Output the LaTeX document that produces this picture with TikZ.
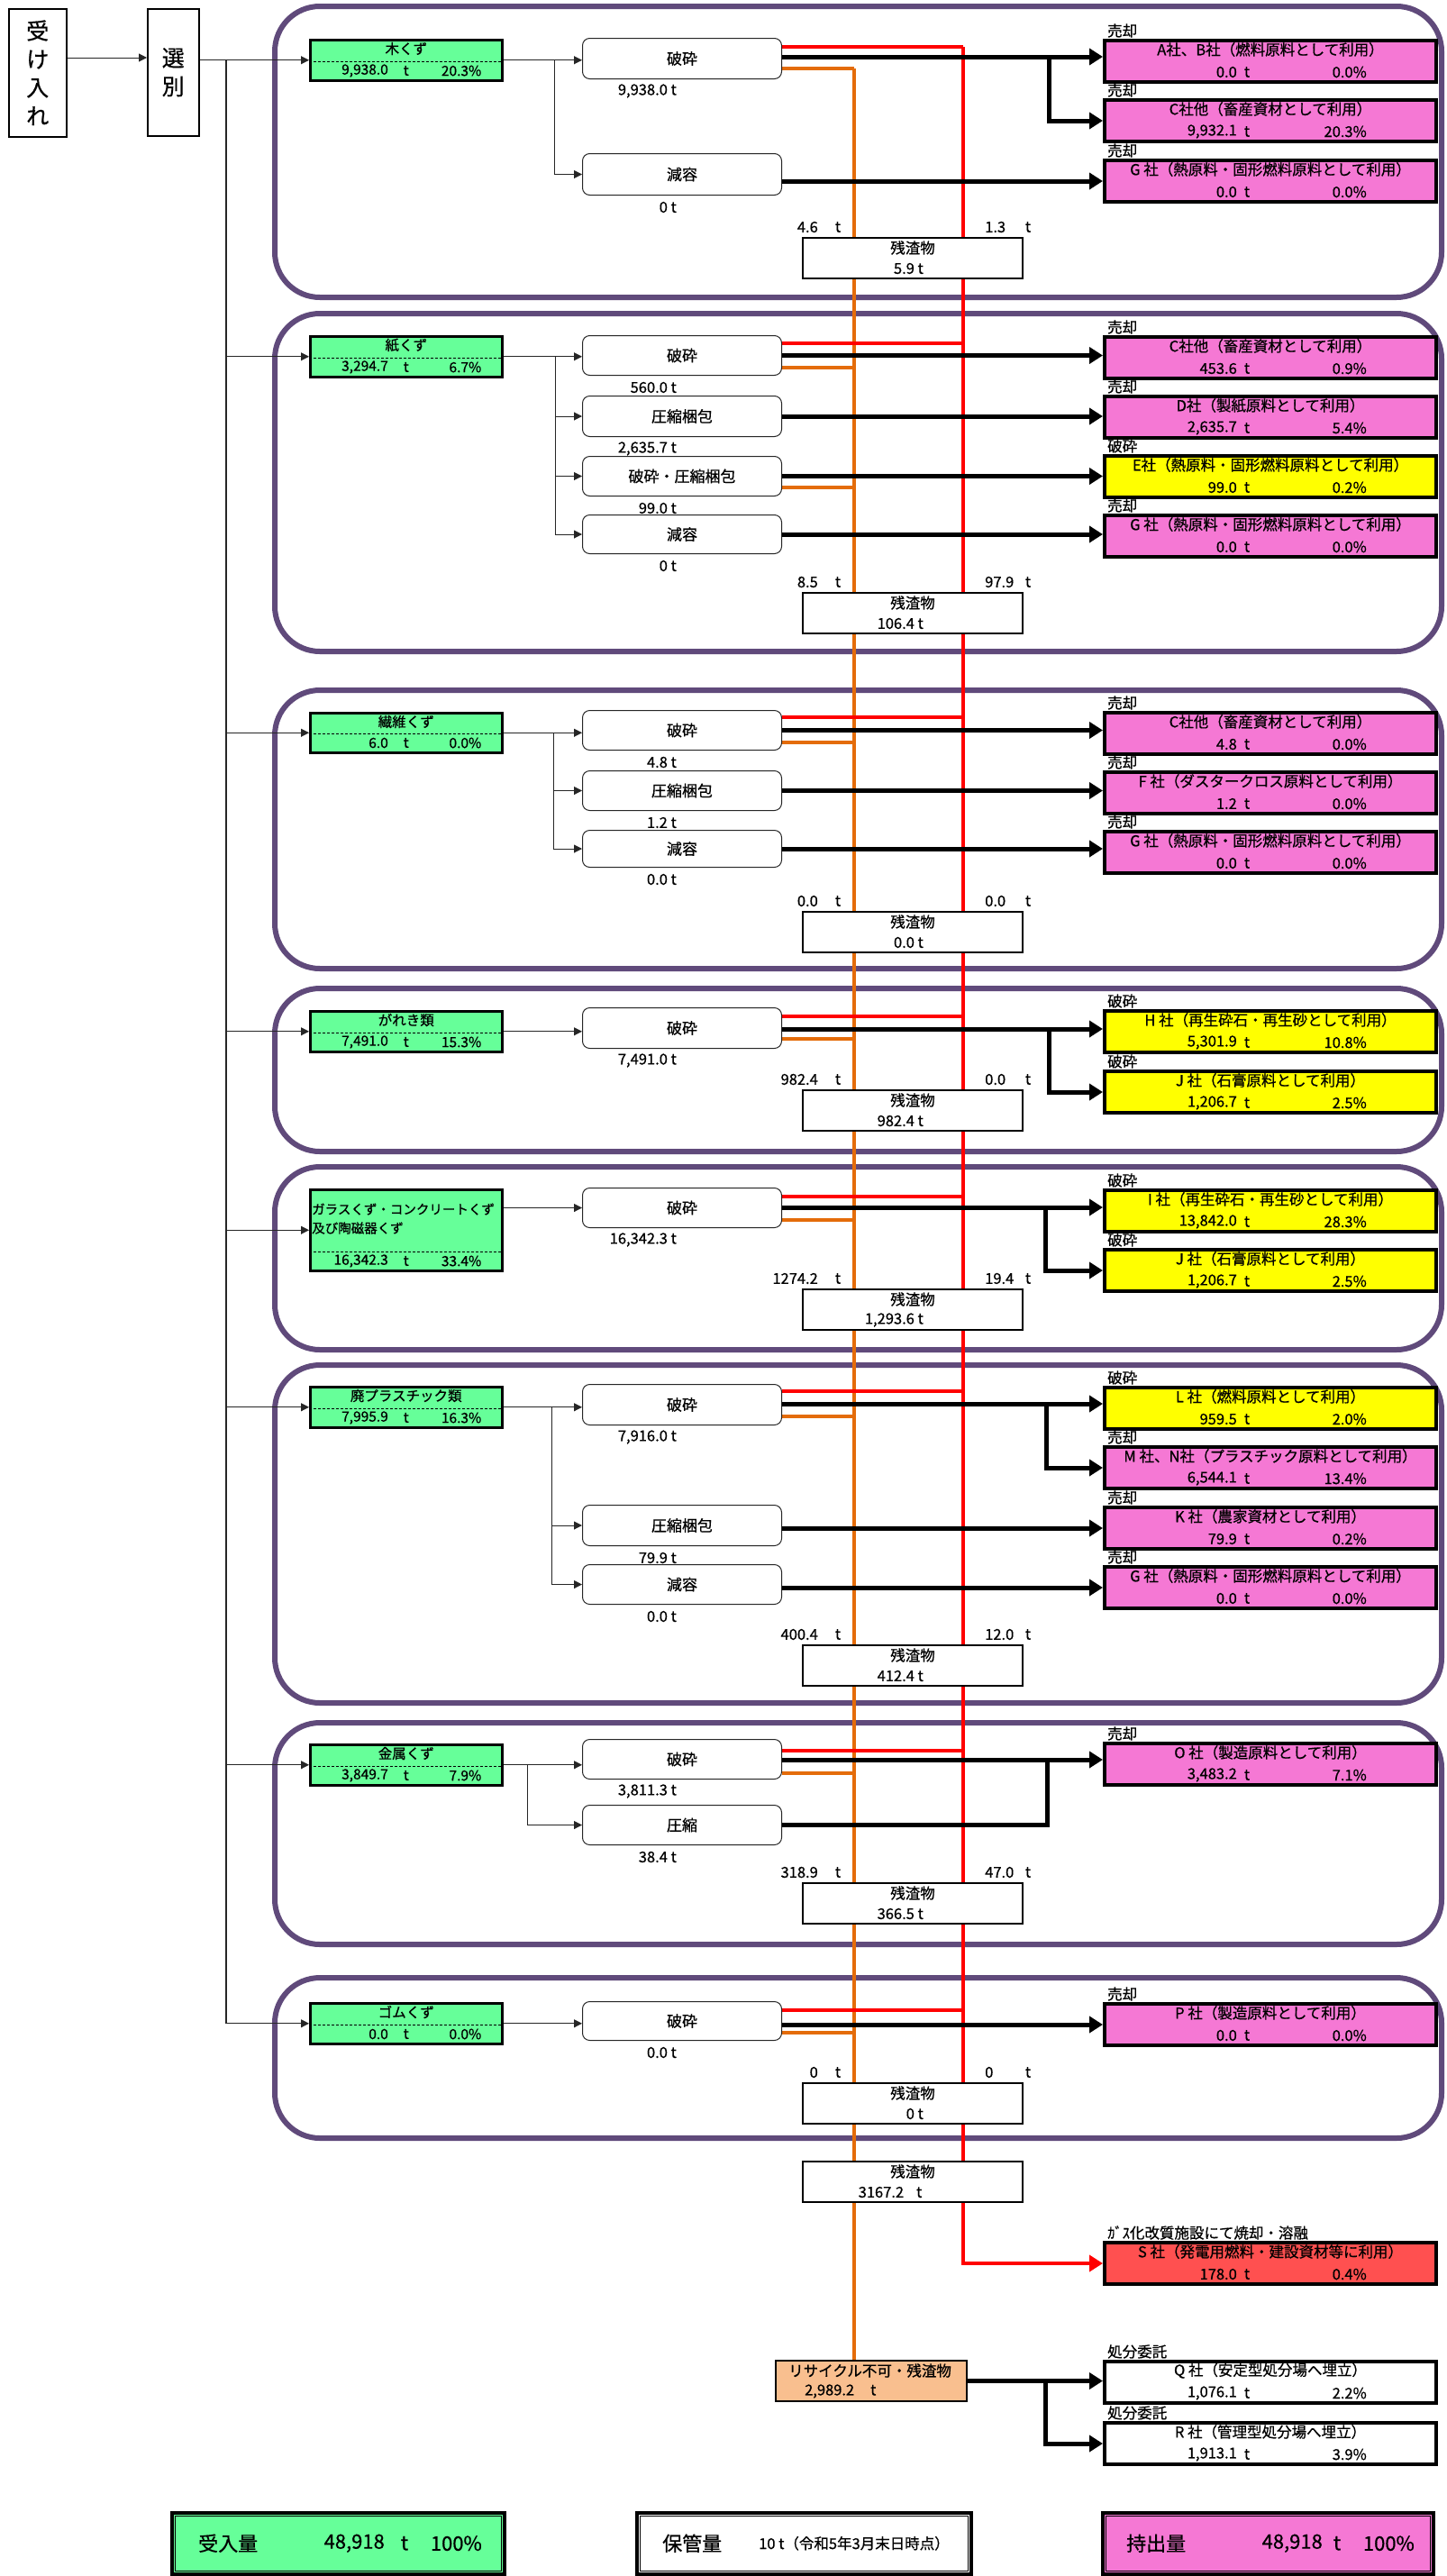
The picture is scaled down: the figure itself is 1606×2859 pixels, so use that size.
\documentclass[tikz,border=0pt]{standalone}
\usepackage{fontspec}
\newfontfamily\jp{Noto Sans CJK JP}[FakeBold=0.6]
\usetikzlibrary{arrows.meta}
\definecolor{grn}{HTML}{66FF99}
\definecolor{pnk}{HTML}{F578D4}
\definecolor{ylw}{HTML}{FFFF00}
\definecolor{srd}{HTML}{FF5050}
\definecolor{prp}{HTML}{604A7B}
\definecolor{org}{HTML}{E46C0A}
\definecolor{rdl}{HTML}{FF0000}
\definecolor{orf}{HTML}{F9BF8F}
\pgfdeclarelayer{sectl}
\pgfdeclarelayer{lines}
\pgfsetlayers{sectl,lines,main}
\tikzset{
  txt/.style={inner sep=0pt, font=\jp\fontsize{16.5}{18}\selectfont},
  txts/.style={inner sep=0pt, font=\jp\fontsize{15.5}{17}\selectfont},
  big/.style={inner sep=0pt, font=\jp\fontsize{22}{24}\selectfont},
  mat/.style={draw, line width=2.5pt, fill=grn, minimum width=213pt, anchor=north west, inner sep=0pt},
  proc/.style={draw=black!85, line width=1pt, rounded corners=8pt, fill=white, minimum width=221pt, anchor=north west, inner sep=0pt, font=\jp\fontsize{17}{18}\selectfont},
  res/.style={draw, line width=2pt, fill=white, minimum width=244pt, minimum height=45pt, anchor=north west, inner sep=0pt},
  tgt/.style={draw, line width=4pt, minimum width=368pt, minimum height=46pt, anchor=north west, inner sep=0pt},
  sect/.style={draw=prp, line width=6pt, rounded corners=50pt},
  tarr/.style={draw=black!85, line width=1pt, -{Triangle[length=9pt,width=9pt]}},
  tln/.style={draw=black!85, line width=1.5pt},
  blk/.style={line width=5pt, -{Triangle[length=15pt,width=18pt]}},
  blkn/.style={line width=5pt},
  rline/.style={draw=rdl, line width=4pt},
  oline/.style={draw=org, line width=4pt},
  sumbox/.style={draw, line width=3.5pt, minimum width=369pt, minimum height=68pt, anchor=north west, inner sep=0pt}
}
\newcommand{\matnode}[6]{%
  \node[mat, minimum height=#3pt] (#1) at (343,#2) {};
  \draw[line width=1.5pt, dash pattern=on 3pt off 2pt] ([yshift=22pt]#1.south west) -- ([yshift=22pt]#1.south east);
  \node[txts] (#1t) at ([yshift=-11pt]#1.north) {#4};
  \node[txts, anchor=east] (#1n) at ([xshift=88pt,yshift=12pt]#1.south west) {#5};
  \node[txts] (#1u) at ([yshift=12pt]#1.south) {t};
  \node[txts, anchor=east] (#1p) at ([xshift=-24pt,yshift=12pt]#1.south east) {#6};}
\newcommand{\procnode}[6]{%
  \node[proc, minimum height=#4pt] (#1) at (#2,#3) {#5};
  \node[txt, anchor=east] (#1l) at ([xshift=-117pt,yshift=-13pt]#1.south east) {#6};}
\newcommand{\resnode}[5]{%
  \node[res] (#1) at (890,#2) {};
  \node[txt] (#1a) at ([yshift=-12pt]#1.north) {残渣物};
  \node[txt, anchor=east] (#1v) at ([xshift=-111pt,yshift=12pt]#1.south east) {#3};
  \node[txt, anchor=east] (#1l) at ([xshift=18pt,yshift=11pt]#1.north west) {#4};
  \node[txt] (#1lt) at ([xshift=40pt,yshift=11pt]#1.north west) {t};
  \node[txt, anchor=west] (#1r) at ([xshift=203pt,yshift=11pt]#1.north west) {#5};
  \node[txt] (#1rt) at ([xshift=251pt,yshift=11pt]#1.north west) {t};}
\newcommand{\tgtnode}[7]{%
  \node[tgt, fill=#3] (#1) at (1224,#2) {};
  \node[txt, anchor=west] (#1h) at ([xshift=5pt,yshift=9pt]#1.north west) {#4};
  \node[txt] (#1a) at ([yshift=-12pt]#1.north) {#5};
  \node[txt, anchor=east] (#1n) at ([xshift=149pt,yshift=13pt]#1.south west) {#6};
  \node[txt] (#1u) at ([xshift=160pt,yshift=13pt]#1.south west) {t};
  \node[txt, anchor=east] (#1p) at ([xshift=293pt,yshift=13pt]#1.south west) {#7};}
\begin{document}
\begin{tikzpicture}[x=1pt,y=-1pt]
\useasboundingbox (0,0) rectangle (1606,2859);
\begin{pgfonlayer}{sectl}
\fill[white] (0,0) rectangle (1606,2859);
\draw[sect] (305,7) rectangle (1600,330);
\draw[sect] (305,348) rectangle (1600,723);
\draw[sect] (305,766) rectangle (1600,1075);
\draw[sect] (305,1097) rectangle (1600,1278);
\draw[sect] (305,1295) rectangle (1600,1498);
\draw[sect] (305,1515) rectangle (1600,1890);
\draw[sect] (305,1912) rectangle (1600,2158);
\draw[sect] (305,2195) rectangle (1600,2373);
\end{pgfonlayer}

% left column
\node[draw, line width=1.5pt, minimum width=64pt, minimum height=142pt, anchor=north west, inner sep=0pt, align=center, font=\jp\fontsize{25}{31.5}\selectfont] (uke) at (9,9) {受\\け\\入\\れ};
\node[draw, line width=1.5pt, minimum width=57pt, minimum height=141pt, anchor=north west, inner sep=0pt, align=center, font=\jp\fontsize{25}{31.5}\selectfont] (sen) at (163,9) {選\\別};

% material boxes
\matnode{m1}{43}{45}{木くず}{9,938.0}{20.3\%}
\matnode{m2}{372}{45}{紙くず}{3,294.7}{6.7\%}
\matnode{m3}{790}{44}{繊維くず}{6.0}{0.0\%}
\matnode{m4}{1121}{45}{がれき類}{7,491.0}{15.3\%}
\matnode{m5}{1319}{90}{}{16,342.3}{33.4\%}
\node[inner sep=0pt, anchor=west, font=\jp\fontsize{14.5}{16}\selectfont] (m5x) at ([xshift=3pt,yshift=-23pt]m5.north west) {ガラスくず・コンクリートくず};
\node[inner sep=0pt, anchor=west, font=\jp\fontsize{14.5}{16}\selectfont] (m5y) at ([xshift=3pt,yshift=-44pt]m5.north west) {及び陶磁器くず};
\matnode{m6}{1538}{45}{廃プラスチック類}{7,995.9}{16.3\%}
\matnode{m7}{1935}{45}{金属くず}{3,849.7}{7.9\%}
\matnode{m8}{2222}{45}{ゴムくず}{0.0}{0.0\%}

% process boxes
\procnode{p1a}{646}{42}{45}{破砕}{9,938.0 t}
\procnode{p1b}{646}{170}{46}{減容}{0 t}
\procnode{p2a}{646}{372}{44}{破砕}{560.0 t}
\procnode{p2b}{646}{439}{45}{圧縮梱包}{2,635.7 t}
\procnode{p2c}{646}{506}{44}{破砕・圧縮梱包}{99.0 t}
\procnode{p2d}{646}{571}{43}{減容}{0 t}
\procnode{p3a}{646}{788}{44}{破砕}{4.8 t}
\procnode{p3b}{646}{855}{44}{圧縮梱包}{1.2 t}
\procnode{p3c}{646}{921}{41}{減容}{0.0 t}
\procnode{p4a}{646}{1118}{45}{破砕}{7,491.0 t}
\procnode{p5a}{646}{1318}{44}{破砕}{16,342.3 t}
\procnode{p6a}{646}{1536}{45}{破砕}{7,916.0 t}
\procnode{p6b}{646}{1670}{45}{圧縮梱包}{79.9 t}
\procnode{p6c}{646}{1736}{44}{減容}{0.0 t}
\procnode{p7a}{646}{1930}{44}{破砕}{3,811.3 t}
\procnode{p7b}{646}{2003}{44}{圧縮}{38.4 t}
\procnode{p8a}{646}{2221}{43}{破砕}{0.0 t}

% target boxes
\tgtnode{t1a}{43}{pnk}{売却}{A社、B社（燃料原料として利用）}{0.0}{0.0\%}
\tgtnode{t1b}{109}{pnk}{売却}{C社他（畜産資材として利用）}{9,932.1}{20.3\%}
\tgtnode{t1c}{176}{pnk}{売却}{G 社（熱原料・固形燃料原料として利用）}{0.0}{0.0\%}
\tgtnode{t2a}{372}{pnk}{売却}{C社他（畜産資材として利用）}{453.6}{0.9\%}
\tgtnode{t2b}{438}{pnk}{売却}{D社（製紙原料として利用）}{2,635.7}{5.4\%}
\tgtnode{t2c}{504}{ylw}{破砕}{E社（熱原料・固形燃料原料として利用）}{99.0}{0.2\%}
\tgtnode{t2d}{570}{pnk}{売却}{G 社（熱原料・固形燃料原料として利用）}{0.0}{0.0\%}
\tgtnode{t3a}{789}{pnk}{売却}{C社他（畜産資材として利用）}{4.8}{0.0\%}
\tgtnode{t3b}{855}{pnk}{売却}{F 社（ダスタークロス原料として利用）}{1.2}{0.0\%}
\tgtnode{t3c}{921}{pnk}{売却}{G 社（熱原料・固形燃料原料として利用）}{0.0}{0.0\%}
\tgtnode{t4a}{1120}{ylw}{破砕}{H 社（再生砕石・再生砂として利用）}{5,301.9}{10.8\%}
\tgtnode{t4b}{1187}{ylw}{破砕}{J 社（石膏原料として利用）}{1,206.7}{2.5\%}
\tgtnode{t5a}{1319}{ylw}{破砕}{I 社（再生砕石・再生砂として利用）}{13,842.0}{28.3\%}
\tgtnode{t5b}{1385}{ylw}{破砕}{J 社（石膏原料として利用）}{1,206.7}{2.5\%}
\tgtnode{t6a}{1538}{ylw}{破砕}{L 社（燃料原料として利用）}{959.5}{2.0\%}
\tgtnode{t6b}{1604}{pnk}{売却}{M 社、N社（プラスチック原料として利用）}{6,544.1}{13.4\%}
\tgtnode{t6c}{1671}{pnk}{売却}{K 社（農家資材として利用）}{79.9}{0.2\%}
\tgtnode{t6d}{1737}{pnk}{売却}{G 社（熱原料・固形燃料原料として利用）}{0.0}{0.0\%}
\tgtnode{t7a}{1933}{pnk}{売却}{O 社（製造原料として利用）}{3,483.2}{7.1\%}
\tgtnode{t8a}{2222}{pnk}{売却}{P 社（製造原料として利用）}{0.0}{0.0\%}
\tgtnode{tS}{2487}{srd}{ｶﾞｽ化改質施設にて焼却・溶融}{S 社（発電用燃料・建設資材等に利用）}{178.0}{0.4\%}
\tgtnode{tQ}{2619}{white}{処分委託}{Q 社（安定型処分場へ埋立）}{1,076.1}{2.2\%}
\tgtnode{tR}{2687}{white}{処分委託}{R 社（管理型処分場へ埋立）}{1,913.1}{3.9\%}

% residue boxes
\resnode{res1}{263}{5.9 t}{4.6}{1.3}
\resnode{res2}{657}{106.4 t}{8.5}{97.9}
\resnode{res3}{1011}{0.0 t}{0.0}{0.0}
\resnode{res4}{1209}{982.4 t}{982.4}{0.0}
\resnode{res5}{1430}{1,293.6 t}{1274.2}{19.4}
\resnode{res6}{1825}{412.4 t}{400.4}{12.0}
\resnode{res7}{2089}{366.5 t}{318.9}{47.0}
\resnode{res8}{2311}{0 t}{0}{0}
\node[res] (resT) at (890,2398) {};
\node[txt] (resTa) at ([yshift=-12pt]resT.north) {残渣物};
\node[txt] (resTv) at ([xshift=-25pt,yshift=12pt]resT.south) {3167.2\hspace{14pt}t};

\node[draw, line width=2pt, fill=orf, minimum width=212pt, minimum height=45pt, anchor=north west, inner sep=0pt] (rec) at (860,2619) {};
\node[txt, anchor=west] (reca) at ([xshift=15pt,yshift=-12pt]rec.north west) {リサイクル不可・残渣物};
\node[txt, anchor=west] (recb) at ([xshift=33pt,yshift=12pt]rec.south west) {2,989.2\hspace{18pt}t};

% summary boxes
\node[sumbox, fill=grn] (sIn) at (189,2787) {};
\node[sumbox, fill=white, minimum width=371pt] (sKeep) at (705,2787) {};
\node[sumbox, fill=pnk, minimum width=367pt] (sOut) at (1222,2787) {};
\foreach \s in {sIn,sKeep,sOut}{
  \draw[line width=1pt] ([shift={(5pt,5pt)}]\s.south west) rectangle ([shift={(-5pt,-5pt)}]\s.north east);}
\node[big, anchor=west] (sInA) at ([xshift=31pt]sIn.west) {受入量};
\node[big, anchor=east] (sInN) at ([xshift=238pt]sIn.west) {48,918};
\node[big] (sInU) at ([xshift=260pt]sIn.west) {t};
\node[big, anchor=east] (sInP) at ([xshift=346pt]sIn.west) {100\%};
\node[big, anchor=west] (sKeepA) at ([xshift=30pt]sKeep.west) {保管量};
\node[txt, anchor=west] (sKeepB) at ([xshift=137pt]sKeep.west) {10 t（令和5年3月末日時点）};
\node[big, anchor=west] (sOutA) at ([xshift=28pt]sOut.west) {持出量};
\node[big, anchor=east] (sOutN) at ([xshift=246pt]sOut.west) {48,918};
\node[big] (sOutU) at ([xshift=262pt]sOut.west) {t};
\node[big, anchor=east] (sOutP) at ([xshift=348pt]sOut.west) {100\%};

% coordinates
\coordinate (ya) at (0,64);
\coordinate (trk) at (251,0);
\coordinate (j1) at (615,0);
\coordinate (j2) at (616,0);
\coordinate (j3) at (614,0);
\coordinate (j6) at (612,0);
\coordinate (j7) at (585,0);
\coordinate (r1) at (1069,52);
\coordinate (o1) at (948,76);
\coordinate (r2) at (1069,381);
\coordinate (o2) at (948,408);
\coordinate (o2c) at (948,541);
\coordinate (r3) at (1069,796);
\coordinate (o3) at (948,824);
\coordinate (r4) at (1069,1128);
\coordinate (o4) at (948,1153);
\coordinate (r5) at (1069,1328);
\coordinate (o5) at (948,1354);
\coordinate (r6) at (1069,1544);
\coordinate (o6) at (948,1572);
\coordinate (r7) at (1069,1943);
\coordinate (o7) at (948,1968);
\coordinate (r8) at (1069,2231);
\coordinate (o8) at (948,2256);
\coordinate (k1) at (1164,63);
\coordinate (k4) at (1164,1142);
\coordinate (k5) at (1160,1340);
\coordinate (k6) at (1161,1558);
\coordinate (k7) at (1162,1953);
\coordinate (k9) at (1160,0);

% red and orange flows
\begin{pgfonlayer}{lines}
\draw[rline, -{Triangle[length=15pt,width=18pt]}] (r1) |- (tS.west);
\draw[oline] (o1) -- (o1 |- rec.north);
\draw[rline] (p1a.east |- r1) -- (r1);
\draw[oline] (p1a.east |- o1) -- (o1);
\draw[rline] (p2a.east |- r2) -- (r2);
\draw[oline] (p2a.east |- o2) -- (o2);
\draw[oline] (p2c.east |- o2c) -- (o2c);
\draw[rline] (p3a.east |- r3) -- (r3);
\draw[oline] (p3a.east |- o3) -- (o3);
\draw[rline] (p4a.east |- r4) -- (r4);
\draw[oline] (p4a.east |- o4) -- (o4);
\draw[rline] (p5a.east |- r5) -- (r5);
\draw[oline] (p5a.east |- o5) -- (o5);
\draw[rline] (p6a.east |- r6) -- (r6);
\draw[oline] (p6a.east |- o6) -- (o6);
\draw[rline] (p7a.east |- r7) -- (r7);
\draw[oline] (p7a.east |- o7) -- (o7);
\draw[rline] (p8a.east |- r8) -- (r8);
\draw[oline] (p8a.east |- o8) -- (o8);
\end{pgfonlayer}

% thin connectors
\draw[tarr] (uke.east |- ya) -- (sen.west |- ya);
\draw[tarr] (sen.east |- m1.west) -- (m1.west);
\draw[tln] (trk |- m1.west) -- (trk |- m8.west);
\foreach \m in {m2,m3,m4,m5,m6,m7,m8}{\draw[tarr] (trk |- \m.west) -- (\m.west);}
\draw[tarr] (m1.east) -- (m1.east -| p1a.west);
\draw[tarr] (j1 |- m1.east) |- (p1b.west);
\draw[tarr] (m2.east) -- (m2.east -| p2a.west);
\draw[tarr] (j2 |- m2.east) |- (p2b.west);
\draw[tarr] (j2 |- m2.east) |- (p2c.west);
\draw[tarr] (j2 |- m2.east) |- (p2d.west);
\draw[tarr] (m3.east) -- (m3.east -| p3a.west);
\draw[tarr] (j3 |- m3.east) |- (p3b.west);
\draw[tarr] (j3 |- m3.east) |- (p3c.west);
\draw[tarr] (m4.east) -- (m4.east -| p4a.west);
\draw[tarr] (m5.east |- p5a.west) -- (p5a.west);
\draw[tarr] (m6.east) -- (m6.east -| p6a.west);
\draw[tarr] (j6 |- m6.east) |- (p6b.west);
\draw[tarr] (j6 |- m6.east) |- (p6c.west);
\draw[tarr] (m7.east) -- (m7.east -| p7a.west);
\draw[tarr] (j7 |- m7.east) |- (p7b.west);
\draw[tarr] (m8.east) -- (m8.east -| p8a.west);

% black product flows
\draw[blk] (p1a.east |- k1) -- (t1a.west |- k1);
\draw[blk] (k1) |- (t1b.west);
\draw[blk] (t1c.west -| p1b.east) -- (t1c.west);
\draw[blk] (p2a.east) -- (p2a.east -| t2a.west);
\draw[blk] (p2b.east) -- (p2b.east -| t2b.west);
\draw[blk] (p2c.east) -- (p2c.east -| t2c.west);
\draw[blk] (p2d.east) -- (p2d.east -| t2d.west);
\draw[blk] (p3a.east) -- (p3a.east -| t3a.west);
\draw[blk] (p3b.east) -- (p3b.east -| t3b.west);
\draw[blk] (p3c.east) -- (p3c.east -| t3c.west);
\draw[blk] (p4a.east |- k4) -- (t4a.west |- k4);
\draw[blk] (k4) |- (t4b.west);
\draw[blk] (p5a.east |- k5) -- (t5a.west |- k5);
\draw[blk] (k5) |- (t5b.west);
\draw[blk] (p6a.east |- k6) -- (t6a.west |- k6);
\draw[blk] (k6) |- (t6b.west);
\draw[blk] (t6c.west -| p6b.east) -- (t6c.west);
\draw[blk] (t6d.west -| p6c.east) -- (t6d.west);
\draw[blk] (p7a.east |- k7) -- (t7a.west |- k7);
\draw[blkn] (p7b.east) -| (k7);
\draw[blk] (t8a.west -| p8a.east) -- (t8a.west);
\draw[blk] (rec.east) -- (rec.east -| tQ.west);
\draw[blk] (k9 |- rec.east) |- (tR.west);
\end{tikzpicture}
\end{document}
